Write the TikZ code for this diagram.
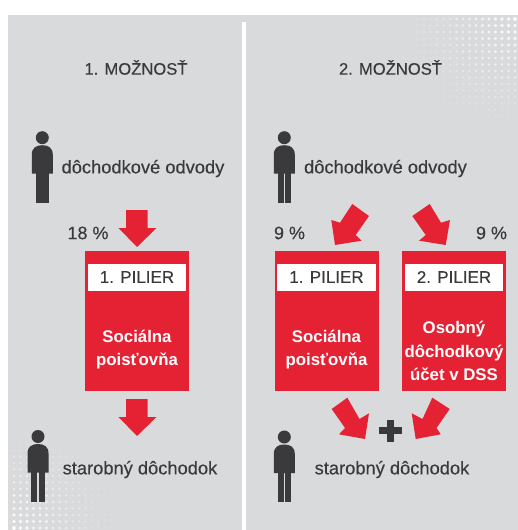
\documentclass[tikz,border=0pt]{standalone}
\usepackage{fontspec}
\setmainfont{Liberation Sans}
\newfontface\inkface[FakeBold=0.25]{Liberation Sans}
\definecolor{panel}{HTML}{D9DADC}
\definecolor{pillarred}{HTML}{E52233}
\definecolor{ink}{HTML}{3A3A3C}
\newcommand{\personshape}{%
  \fill[ink] (0,0) circle (6.5);
  \fill[ink] (-10.5,36) -- (-10.5,17) .. controls (-10.5,10) and (-6,7.5) .. (0,7.5)
    .. controls (6,7.5) and (10.5,10) .. (10.5,17) -- (10.5,36) -- cycle;
}
\tikzset{
  x=1pt,y=-1pt,
  personsolid/.pic={\personshape \fill[ink] (-6.7,35) rectangle (6.7,65);},
  personsplit/.pic={\personshape
    \fill[ink] (-6.7,35) rectangle (-0.6,65);
    \fill[ink] (0.6,35) rectangle (6.7,65);},
  blockarrow/.style={fill=pillarred,draw=none},
  heading/.style={font=\inkface\fontsize{16.6}{16.6}\selectfont,text=ink,inner sep=0pt,anchor=center},
  caption/.style={font=\inkface\fontsize{18.3}{18.3}\selectfont,text=ink,inner sep=0pt,anchor=center},
  percent/.style={font=\inkface\fontsize{18}{18}\selectfont,text=ink,inner sep=0pt,anchor=center},
  redbox/.style={fill=pillarred,draw=none,minimum width=104pt,minimum height=140.5pt,inner sep=0pt,anchor=north west},
  whitelabel/.style={fill=white,draw=none,minimum width=98.5pt,minimum height=27pt,inner sep=0pt,anchor=center,
    font=\inkface\fontsize{17}{17}\selectfont,text=ink},
  boxtext/.style={font=\bfseries\fontsize{16.8}{23.5}\selectfont,text=white,inner sep=0pt,align=center,anchor=center},
}
\begin{document}
\begin{tikzpicture}
\useasboundingbox (0,0) rectangle (518,530);
\fill[white] (0,0) rectangle (518,530);
\fill[panel] (8,15) rectangle (518,530);
% halftone, top right
\foreach \i in {0,...,19}{\foreach \j in {0,...,19}{
  \pgfmathsetmacro{\dd}{veclen(6.5*\i,6.5*\j)}
  \pgfmathsetmacro{\rr}{0.5+1.5*(1-\dd/125)}
  \pgfmathsetmacro{\oo}{0.8*(1-\dd/125)+0.1}
  \pgfmathparse{\dd<125?1:0}
  \ifnum\pgfmathresult=1
    \fill[white,opacity=\oo] ({515-6.5*\i},{19+6.5*\j}) circle (\rr);
  \fi
}}
% halftone, bottom left
\foreach \i in {0,...,17}{\foreach \j in {0,...,17}{
  \pgfmathsetmacro{\dd}{veclen(6.5*\i,6.5*\j)}
  \pgfmathsetmacro{\rr}{0.5+1.5*(1-\dd/112)}
  \pgfmathsetmacro{\oo}{0.8*(1-\dd/112)+0.1}
  \pgfmathparse{\dd<112?1:0}
  \ifnum\pgfmathresult=1
    \fill[white,opacity=\oo] ({14+6.5*\i},{528-6.5*\j}) circle (\rr);
  \fi
}}
\fill[white] (241.7,22) rectangle (245.7,530);

\node[heading] (h1) at (136,67.5) {1. MOŽNOSŤ};
\node[heading] (h2) at (390.5,67.5) {2. MOŽNOSŤ};

\pic at (42.3,137.7) {personsolid};
\pic at (284.3,137.7) {personsplit};
\pic at (38,436.5) {personsplit};
\pic at (284.3,437) {personsplit};

\node[caption] (c1) at (143,168.5) {dôchodkové odvody};
\node[caption] (c2) at (385.5,168.5) {dôchodkové odvody};
\node[caption] (c3) at (140,469.5) {starobný dôchodok};
\node[caption] (c4) at (392,469.5) {starobný dôchodok};

\node[percent] (p1) at (88,233) {18 \%};
\node[percent] (p2) at (289.5,233) {9 \%};
\node[percent] (p3) at (491.5,233) {9 \%};

\node[redbox] (b1) at (85,250.3) {};
\node[redbox] (b2) at (274.5,250.3) {};
\node[redbox] (b3) at (402,250.3) {};
\node[whitelabel] (l1) at (137,277) {1. PILIER};
\node[whitelabel] (l2) at (326.5,277) {1. PILIER};
\node[whitelabel] (l3) at (454,277) {2. PILIER};
\node[boxtext] (t1) at (137,349.5) {Sociálna\\poisťovňa};
\node[boxtext] (t2) at (326.5,349.5) {Sociálna\\poisťovňa};
\node[boxtext] (t3) at (454,351) {Osobný\\dôchodkový\\účet v DSS};

% block arrows
\fill[blockarrow] (126,210) -- (147.5,210) -- (147.5,228) -- (156.5,228) -- (137,247) -- (118.5,228) -- (126,228) -- cycle;
\fill[blockarrow] (126,399) -- (147.5,399) -- (147.5,417) -- (156.5,417) -- (137,436) -- (118.5,417) -- (126,417) -- cycle;
\fill[blockarrow] (352.3,204) -- (369,216) -- (355.7,235) -- (361.7,240.7) -- (335,245) -- (331.3,220) -- (340,222.7) -- cycle;
\fill[blockarrow] (429.7,204) -- (412.3,216) -- (425.7,235) -- (419,240.7) -- (445.7,245) -- (450,220) -- (441,222.7) -- cycle;
\fill[blockarrow] (347.3,397.7) -- (331.7,409) -- (345,428) -- (339,434.3) -- (365,439) -- (369,413.3) -- (359.5,419) -- cycle;
\fill[blockarrow] (432.3,397.7) -- (449.7,409) -- (436.5,428) -- (440.7,434.3) -- (415.7,439) -- (411.7,413.3) -- (422.5,419) -- cycle;
% plus
\fill[ink] (379,427.3) rectangle (402,434);
\fill[ink] (387,419.5) rectangle (394,442);
\end{tikzpicture}
\end{document}
